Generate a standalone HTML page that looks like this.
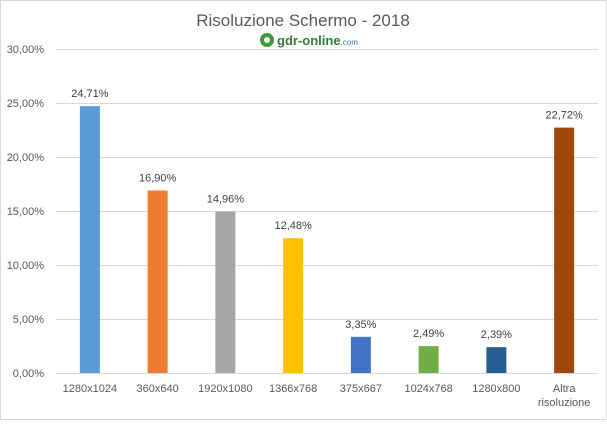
<!DOCTYPE html>
<html><head><meta charset="utf-8"><style>
body{margin:0;background:#fff;font-family:"Liberation Sans",sans-serif}
</style></head><body>
<svg width="607" height="420" xmlns="http://www.w3.org/2000/svg">
<rect x="0.5" y="0.5" width="606" height="419" fill="#fff" stroke="#d9d9d9"/>
<text x="303" y="26" text-anchor="middle" font-size="17" fill="#595959">Risoluzione Schermo - 2018</text>
<g>
<circle cx="267" cy="40" r="7" fill="#3a9a3a"/>
<circle cx="267" cy="40" r="3" fill="#fff"/>
<text x="277" y="45" font-size="13" font-weight="bold" fill="#2e7d32">gdr-online<tspan font-size="8" font-weight="normal" fill="#3a7ab8">.com</tspan></text>
</g>
<g id="grid"></g><g id="bars"></g>
</svg>
<script>
const categories=["1280x1024","360x640","1920x1080","1366x768","375x667","1024x768","1280x800","Altra risoluzione"];
const values=[24.71,16.90,14.96,12.48,3.35,2.49,2.39,22.72];
const colors=["#5b9bd5","#ed7d31","#a5a5a5","#ffc000","#4472c4","#70ad47","#255e91","#9e480e"];
const ticks=[0,5,10,15,20,25,30];
const NS="http://www.w3.org/2000/svg";
const x0=56,x1=598,y0=373,yTop=49,yMax=30;
const y=v=>y0-(y0-yTop)*v/yMax;
const bw=(x1-x0)/categories.length;
const xc=i=>x0+bw*(i+0.5);
const fmt=v=>v.toFixed(2).replace('.',',')+'%';
function mk(t,a,p){const e=document.createElementNS(NS,t);for(const k in a)e.setAttribute(k,a[k]);p.appendChild(e);return e;}
const g=document.getElementById('grid'),b=document.getElementById('bars');
ticks.forEach(t=>{
 const l=mk('line',{x1:x0,x2:x1,y1:y(t)+0.5,y2:y(t)+0.5,stroke:'#d9d9d9'},g);
 
 
 const tx=mk('text',{x:44,y:y(t)+4,'text-anchor':'end','font-size':'11',fill:'#595959'},g);
 tx.textContent=fmt(t);
 
 
});
categories.forEach((c,i)=>{
 const r=mk('rect',{x:xc(i)-10,y:y(values[i]),width:20,height:y0-y(values[i]),fill:colors[i]},b);
 
 
 const v=mk('text',{x:xc(i),y:y(values[i])-9,'text-anchor':'middle','font-size':'11',fill:'#404040'},b);
 v.textContent=fmt(values[i]);
 
 
 const parts=c==="Altra risoluzione"?["Altra","risoluzione"]:[c];
 parts.forEach((p,k)=>{
  const t=mk('text',{x:xc(i),y:392+k*14,'text-anchor':'middle','font-size':'11',fill:'#595959'},b);
  t.textContent=p;
  
  
 });
});
</script>
</body></html>
